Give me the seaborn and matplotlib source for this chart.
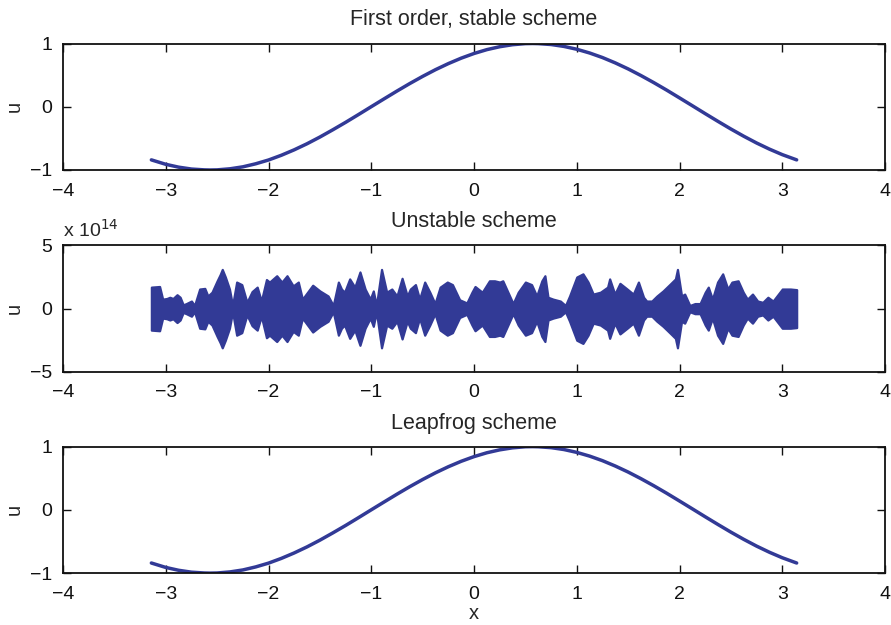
import numpy as np
import pandas as pd
import matplotlib
matplotlib.use("Agg")
import matplotlib.pyplot as plt
import seaborn as sns

# ---------------- data ----------------
x_smooth = [-3.14, -3.0, -2.875, -2.75, -2.625, -2.57, -2.5, -2.375, -2.25, -2.125,
            -2.0, -1.875, -1.75, -1.625, -1.5, -1.375, -1.25, -1.125, -1.0, -0.875,
            -0.75, -0.625, -0.5, -0.375, -0.25, -0.125, 0.0, 0.125, 0.25, 0.375,
            0.5, 0.57, 0.625, 0.75, 0.875, 1.0, 1.125, 1.25, 1.375, 1.5,
            1.625, 1.75, 1.875, 2.0, 2.125, 2.25, 2.375, 2.5, 2.625, 2.75,
            2.875, 3.0, 3.14]
u_stable = [-0.84, -0.91, -0.955, -0.985, -0.998, -1.0, -0.998, -0.981, -0.950, -0.902,
            -0.842, -0.767, -0.681, -0.585, -0.479, -0.365, -0.247, -0.124, 0.001, 0.125,
            0.248, 0.367, 0.480, 0.586, 0.682, 0.768, 0.842, 0.903, 0.949, 0.981,
            0.998, 1.0, 0.998, 0.984, 0.954, 0.909, 0.850, 0.778, 0.693, 0.598,
            0.493, 0.381, 0.263, 0.140, 0.016, -0.109, -0.232, -0.352, -0.466, -0.573,
            -0.670, -0.757, -0.84]
u_leapfrog = [-0.84, -0.91, -0.955, -0.985, -0.998, -1.0, -0.998, -0.981, -0.950, -0.902,
              -0.842, -0.767, -0.681, -0.585, -0.479, -0.365, -0.247, -0.124, 0.001, 0.125,
              0.248, 0.367, 0.480, 0.586, 0.682, 0.768, 0.842, 0.903, 0.949, 0.981,
              0.998, 1.0, 0.998, 0.984, 0.954, 0.909, 0.850, 0.778, 0.693, 0.598,
              0.493, 0.381, 0.263, 0.140, 0.016, -0.109, -0.232, -0.352, -0.466, -0.573,
              -0.670, -0.757, -0.84]

# envelope of the unstable (oscillating) solution, in units of 1e14
x_unstable = [-3.14, -3.06, -3.03, -2.99, -2.96, -2.93, -2.89, -2.86, -2.83, -2.80,
              -2.75, -2.72, -2.67, -2.62, -2.59, -2.55, -2.50, -2.47, -2.45, -2.42,
              -2.38, -2.35,
              -2.31, -2.26, -2.21, -2.16, -2.11, -2.07, -2.02, -1.99, -1.92, -1.87,
              -1.82, -1.76, -1.71, -1.67, -1.62, -1.57, -1.50, -1.42, -1.37, -1.32,
              -1.29, -1.26, -1.21, -1.16, -1.11, -1.06, -1.01, -0.98, -0.95, -0.90,
              -0.85, -0.80, -0.75, -0.70, -0.65, -0.62, -0.57, -0.53, -0.48, -0.43,
              -0.38, -0.33, -0.26, -0.21, -0.14, -0.07, -0.02, 0.01, 0.08, 0.15,
              0.20, 0.25, 0.28, 0.33, 0.38, 0.43, 0.50, 0.56, 0.61, 0.66,
              0.69, 0.72, 0.77, 0.84, 0.89, 0.93, 1.00, 1.06, 1.11, 1.16,
              1.23, 1.30, 1.32, 1.37, 1.42, 1.49, 1.55, 1.60, 1.65, 1.68,
              1.73, 1.78, 1.84, 1.91, 1.96, 1.98, 2.02, 2.05, 2.10, 2.15,
              2.20, 2.25, 2.28, 2.32, 2.37, 2.42, 2.47, 2.51, 2.57, 2.62,
              2.66, 2.71, 2.76, 2.81, 2.86, 2.91, 3.00, 3.08, 3.14]
amp_unstable = [1.70, 1.75, 0.75, 0.80, 0.90, 0.80, 1.10, 0.90, 0.30, 0.40,
                0.60, 0.25, 1.55, 1.60, 1.00, 1.30, 2.20, 2.70, 3.10, 2.50,
                1.55, 0.25,
                2.10, 1.90, 0.50, 1.35, 1.70, 0.60, 2.30, 2.10, 2.60, 2.10,
                2.60, 1.80, 2.10, 0.75, 1.30, 1.85, 1.40, 1.00, 0.25, 2.10,
                1.55, 1.30, 2.35, 1.70, 2.90, 1.55, 0.75, 1.40, 0.25, 3.10,
                1.30, 1.55, 1.00, 2.40, 1.00, 1.55, 1.90, 0.75, 2.10, 1.30,
                0.40, 1.70, 2.10, 1.90, 0.70, 0.45, 1.30, 1.75, 1.30, 2.20,
                2.20, 2.10, 2.20, 1.30, 0.40, 1.30, 2.10, 1.90, 1.00, 2.20,
                2.60, 0.90, 0.75, 0.60, 0.25, 1.00, 2.50, 2.75, 2.10, 1.15,
                1.30, 1.70, 2.35, 1.15, 2.00, 1.55, 1.15, 2.10, 0.90, 0.60,
                0.60, 1.00, 1.40, 1.95, 2.35, 3.10, 1.00, 1.15, 0.25, 0.40,
                0.40, 1.30, 1.70, 0.75, 2.10, 2.75, 1.55, 2.10, 2.20, 1.30,
                0.75, 1.15, 0.60, 0.50, 0.90, 0.60, 1.55, 1.55, 1.50]

titles = ["First order, stable scheme", "Unstable scheme", "Leapfrog scheme"]
x_ticks = [-4, -3, -2, -1, 0, 1, 2, 3, 4]
y_ticks_unit = [-1, 0, 1]
y_ticks_unstable = [-5, 0, 5]

# ---------------- style ----------------
sns.set_theme(style="ticks")
plt.rcParams["font.family"] = ["Liberation Sans", "DejaVu Sans"]
plt.rcParams.update({
    "xtick.direction": "in", "ytick.direction": "in",
    "xtick.top": True, "ytick.right": True,
    "xtick.major.size": 5.5, "ytick.major.size": 5.5,
    "xtick.major.width": 1.0, "ytick.major.width": 1.0,
    "axes.linewidth": 1.3, "axes.edgecolor": "#111111",
    "xtick.color": "#111111", "ytick.color": "#111111",
    "xtick.labelsize": 14, "ytick.labelsize": 14,
    "xtick.major.pad": 9, "ytick.major.pad": 8,
})
line_color = "#323a96"

fig = plt.figure(figsize=(8.91, 6.25), dpi=100)
L, W, H = 0.0707, 0.9226, 0.2024
ax1 = fig.add_axes([L, 0.728, W, H])
ax2 = fig.add_axes([L, 0.405, W, H])
ax3 = fig.add_axes([L, 0.083, W, H])

df1 = pd.DataFrame({"x": x_smooth, "u": u_stable})
df3 = pd.DataFrame({"x": x_smooth, "u": u_leapfrog})
sns.lineplot(data=df1, x="x", y="u", ax=ax1, color=line_color, lw=2.5)
sns.lineplot(data=df3, x="x", y="u", ax=ax3, color=line_color, lw=2.5)

xu = np.array(x_unstable)
au = np.array(amp_unstable)
ax2.fill_between(xu, -au, au, color=line_color, lw=1.6, edgecolor=line_color,
                 joinstyle="round")

for ax, title in zip([ax1, ax2, ax3], titles):
    ax.set_xlim(-4, 4)
    ax.set_xticks(x_ticks)
    ax.set_title(title, fontsize=15.5, pad=13)
    ax.set_ylabel("u", fontsize=14.5, labelpad=4)
    ax.set_xlabel("")

ax1.set_ylim(-1, 1)
ax1.set_yticks(y_ticks_unit)
ax3.set_ylim(-1, 1)
ax3.set_yticks(y_ticks_unit)
ax2.set_ylim(-5, 5)
ax2.set_yticks(y_ticks_unstable)
ax2.text(0.0, 1.04, r"x 10$^{14}$", transform=ax2.transAxes, fontsize=14,
         ha="left", va="bottom")
ax3.set_xlabel("x", fontsize=14.5, labelpad=1)

for ax in [ax1, ax2, ax3]:
    ax.set_xticklabels([f"\u2212{abs(t)}" if t < 0 else str(t) for t in x_ticks])
ax1.set_yticklabels(["\u22121", "0", "1"])
ax3.set_yticklabels(["\u22121", "0", "1"])
ax2.set_yticklabels(["\u22125", "0", "5"])

fig.savefig("out.png", dpi=100)
